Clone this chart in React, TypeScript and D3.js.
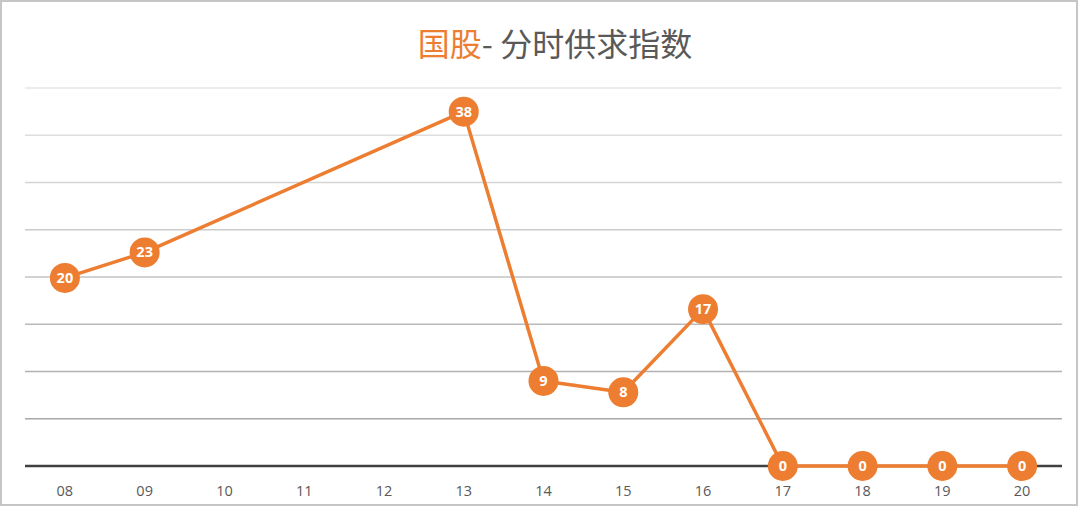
import React from "react";
import * as d3 from "d3";

const categories = ["08", "09", "10", "11", "12", "13", "14", "15", "16", "17", "18", "19", "20"];
const pointCats = ["08", "09", "13", "14", "15", "16", "17", "18", "19", "20"];
const pointValues = [19.9, 22.6, 37.5, 9.0, 7.8, 16.6, 0, 0, 0, 0];
const yTicks = [0, 5, 10, 15, 20, 25, 30, 35, 40];
const titleHighlight = "国股";
const titleRest = "- 分时供求指数";

const W = 1080;
const H = 508;
const ORANGE = "#ED7D31";

export default function App() {
  const x = d3.scaleBand<string>().domain(categories).range([25, 1062]).paddingInner(0).paddingOuter(0);
  const y = d3.scaleLinear().domain([0, 40]).range([466, 88]);
  const cx = (c: string) => (x(c) as number) + x.bandwidth() / 2;
  const pts = pointCats.map((c, i) => ({ c, v: pointValues[i] }));
  const line = d3
    .line<{ c: string; v: number }>()
    .x((d) => cx(d.c))
    .y((d) => y(d.v));
  const gridColor = d3.scaleLinear<string>().domain([40, 5]).range(["#e6e6e6", "#a8a8a8"]);

  return (
    <svg width={W} height={H} style={{ position: "absolute", left: 0, top: 0, background: "#fff" }}>
      <rect x={1} y={1} width={1076} height={504} fill="#fff" stroke="#c6c6c6" strokeWidth={2} />
      <text x={555} y={56} textAnchor="middle" fontFamily="'Noto Sans CJK SC', sans-serif" fontSize={32}>
        <tspan fill={ORANGE}>{titleHighlight}</tspan>
        <tspan fill="#595959">{titleRest}</tspan>
      </text>
      {yTicks
        .filter((t) => t > 0)
        .map((t) => (
          <line key={t} x1={25} x2={1062} y1={y(t)} y2={y(t)} stroke={gridColor(t)} strokeWidth={1.5} />
        ))}
      <line x1={25} x2={1062} y1={y(0)} y2={y(0)} stroke="#404040" strokeWidth={2.5} />
      {categories.map((c) => (
        <text
          key={c}
          x={cx(c)}
          y={496}
          textAnchor="middle"
          fontFamily="'Open Sans', sans-serif"
          fontSize={14.5}
          fill="#595959"
        >
          {c}
        </text>
      ))}
      <path d={line(pts) || ""} fill="none" stroke={ORANGE} strokeWidth={3.5} strokeLinejoin="round" />
      {pts.map((d) => (
        <g key={d.c} transform={`translate(${cx(d.c)},${y(d.v)})`}>
          <circle r={15} fill={ORANGE} />
          <text
            y={5}
            textAnchor="middle"
            fontFamily="'Open Sans', sans-serif"
            fontWeight="bold"
            fontSize={14.5}
            fill="#fff"
          >
            {Math.round(d.v)}
          </text>
        </g>
      ))}
    </svg>
  );
}
